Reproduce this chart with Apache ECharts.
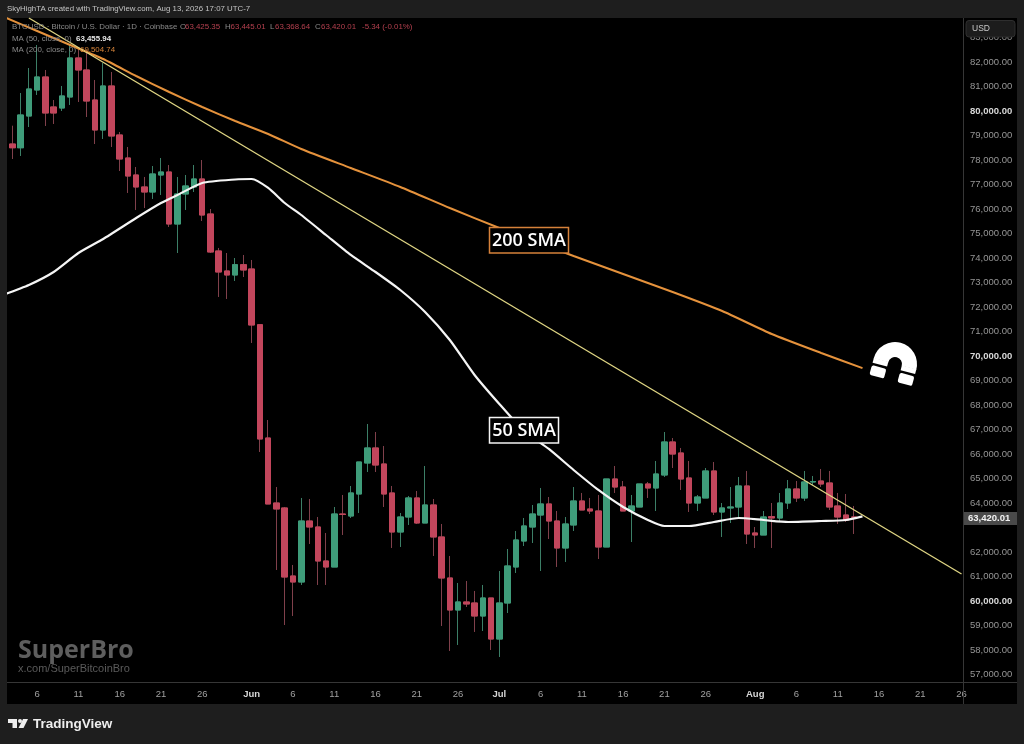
<!DOCTYPE html>
<html>
<head>
<meta charset="utf-8">
<title>BTCUSD 1D</title>
<style>html,body{margin:0;padding:0;background:#1e1e1e;}#c{width:1024px;height:744px;}</style>
<script src="https://cdn.jsdelivr.net/npm/echarts@6/dist/echarts.min.js"></script>
</head>
<body>
<div id="c"></div>
<script>
const monthSpans = [['May', 2, 31], ['Jun', 1, 30], ['Jul', 1, 31], ['Aug', 1, 26]];
const categories = [];
monthSpans.forEach(function (m) { for (let d = m[1]; d <= m[2]; d++) categories.push(m[0] + ' ' + d); });

const tickLabels = {
  'May 6': '6', 'May 11': '11', 'May 16': '16', 'May 21': '21', 'May 26': '26',
  'Jun 1': 'Jun', 'Jun 6': '6', 'Jun 11': '11', 'Jun 16': '16', 'Jun 21': '21', 'Jun 26': '26',
  'Jul 1': 'Jul', 'Jul 6': '6', 'Jul 11': '11', 'Jul 16': '16', 'Jul 21': '21', 'Jul 26': '26',
  'Aug 1': 'Aug', 'Aug 6': '6', 'Aug 11': '11', 'Aug 16': '16', 'Aug 21': '21', 'Aug 26': '26'
};
const priceTicks = [57000,58000,59000,60000,61000,62000,64000,65000,66000,67000,68000,69000,70000,71000,72000,73000,74000,75000,76000,77000,78000,79000,80000,81000,82000,83000];
const brightTicks = [60000, 70000, 80000];

const firstCandle = 'May 3';
const opens = [78653,78500,79796,80858,81388,80164,80123,80572,82164,81674,80449,79225,81021,79021,78082,77388,76899,76694,77388,77510,75388,76613,76899,77225,75796,74286,73470,73307,73727,73551,71278,66653,64000,63797,61020,60776,63265,63021,61633,61388,63551,63470,64368,65633,66246,65592,64409,62817,63429,64205,63184,63919,62613,60939,59633,59960,59919,59388,60123,58449,59919,61389,62449,63021,63510,63960,63265,62164,63103,64082,63756,63674,62205,64980,64653,63674,63837,64776,64613,65143,66490,66041,65021,64000,64205,65307,63633,63797,63837,64694,62776,62694,63442,63388,64000,64572,64205,64858,64898,64817,63878,63510,63425];
const closes = [78500,79837,80898,81388,79919,79919,80613,82164,81674,80408,79225,81021,78980,78041,77347,76899,76694,77429,77510,75388,76613,76939,77225,75755,74245,73429,73307,73727,73511,71266,66613,63960,63756,60980,60776,63265,63021,61633,61388,63551,63531,64409,65674,66246,65551,64368,62817,63429,64205,63184,63919,62613,60939,59633,59960,59878,59388,60123,58449,59919,61429,62490,63062,63551,63960,63265,62164,63143,64082,63715,63674,62205,64980,64653,63674,63878,64776,64613,65184,66490,65999,64980,64000,64245,65307,63633,63797,63837,64694,62735,62694,63429,63388,64000,64572,64205,64858,64878,64776,63837,63429,63307,63420];
const lows = [78041,78164,79347,80654,79388,79470,80000,80245,80368,79755,78653,78858,78531,77551,76654,75960,76041,76409,76572,75266,74204,75960,76694,75510,74204,72409,72327,73062,73225,70531,66082,63960,61266,59020,59388,60654,62327,60654,60654,61388,62694,63388,63592,65266,65266,63837,62164,62205,63103,63143,63184,61837,58980,57960,58205,59755,58736,58776,58000,57715,59510,61143,62245,62367,61225,62531,61389,61592,62857,63715,63551,61715,62205,64409,63674,62408,63837,64205,63674,65062,65429,64531,63633,63674,64205,63510,62613,63184,63429,62327,62164,62694,62164,63265,63756,64041,64082,64735,64653,63715,63143,63225,62735];
const highs = [79400,80735,81755,82694,81674,80449,81021,82694,82613,82490,81266,81960,81592,79143,78531,77715,77307,77755,78082,77796,77307,77388,77796,78000,76000,74409,74204,74000,74123,73919,71278,67388,64653,63837,61470,64205,64164,63429,62776,63837,64327,64694,65674,67225,66898,66327,64694,63592,64286,64490,65510,64164,63143,61837,60735,60817,60409,60654,60123,61225,62123,62857,63388,63919,64613,64245,63674,63429,64653,64409,64205,64327,64980,65510,64898,64327,64776,64858,65715,66898,66653,66246,65715,64327,65429,65674,64000,64653,65062,65307,63021,63674,64000,64409,64939,64898,65307,65103,65388,65307,64409,64368,63878];

const sma50Dates = ['May 2','May 5','May 8','May 11','May 14','May 18','May 21','May 23','May 26','May 30','Jun 1','Jun 3','Jun 5','Jun 7','Jun 10','Jun 13','Jun 16','Jun 19','Jun 22','Jun 25','Jun 28','Jul 1','Jul 4','Jul 7','Jul 10','Jul 13','Jul 16','Jul 19','Jul 21','Jul 24','Jul 27','Jul 30','Aug 2','Aug 5','Aug 9','Aug 12','Aug 14'];
const sma50Values = [72511,72898,73429,74204,74776,75633,76245,76572,77062,77205,77225,76858,76245,75755,74939,74123,73429,72694,71796,70653,69225,68041,66939,66205,65347,64531,63837,63307,63062,63062,63225,63388,63307,63225,63265,63307,63455];

const sma200Dates = ['May 2','May 6','May 10','May 14','May 18','May 22','May 26','May 30','Jun 3','Jun 7','Jun 13','Jun 19','Jun 25','Jul 1','Jul 10','Jul 16','Jul 22','Jul 28','Aug 3','Aug 9','Aug 14'];
const sma200Values = [83837,83266,82694,82123,81429,80776,80164,79592,79062,78449,77674,76899,76041,75225,74082,73347,72613,71837,70898,70123,69505];

const trendDates = ['May 5', 'Aug 26'];
const trendValues = [83796, 61102];

const FONT = '"Liberation Sans", Arial, sans-serif';
const FRAME = '#1e1e1e';
const DIVIDER = '#363636';

const firstIdx = categories.indexOf(firstCandle);
function candleRows(mapper) {
  return categories.map(function (c, i) {
    const k = i - firstIdx;
    if (k < 0 || k >= opens.length) return ['-', '-', '-', '-'];
    return mapper(k);
  });
}
const wickData = candleRows(function (k) { return [opens[k], closes[k], lows[k], highs[k]]; });
const bodyData = candleRows(function (k) {
  return [opens[k], closes[k], Math.min(opens[k], closes[k]), Math.max(opens[k], closes[k])];
});
function pairs(dates, vals) { return dates.map(function (d, i) { return [categories.indexOf(d), vals[i]]; }); }

function txt(x, y, text, fill, size, weight, extra) {
  return Object.assign({
    type: 'text', x: x, y: y, z: 50, silent: true,
    style: { text: text, fill: fill, font: (weight || 'normal') + ' ' + size + 'px ' + FONT, textVerticalAlign: 'middle' }
  }, extra || {});
}
function boxLabel(x, y, w, h, text, stroke) {
  return [
    { type: 'rect', z: 40, silent: true, shape: { x: x, y: y, width: w, height: h }, style: { fill: '#000', stroke: stroke, lineWidth: 1.5 } },
    { type: 'text', z: 41, silent: true, x: x + w / 2, y: y + h / 2 + 0.5,
      style: { text: text, fill: '#fff', font: '600 18px "Open Sans", sans-serif', textAlign: 'center', textVerticalAlign: 'middle' } }
  ];
}

const red = '#b5404f', grey = '#8a8a8a', LEG = 7.9;
const graphics = [
  { type: 'rect', z: -10, silent: true, shape: { x: 7, y: 18, width: 1010, height: 686 }, style: { fill: '#000' } },
  { type: 'rect', z: 30, silent: true, shape: { x: 0, y: 0, width: 7, height: 744 }, style: { fill: FRAME } },
  { type: 'rect', z: 30, silent: true, shape: { x: 7, y: 682, width: 1010, height: 1 }, style: { fill: DIVIDER } },
  { type: 'rect', z: 30, silent: true, shape: { x: 963, y: 18, width: 1, height: 686 }, style: { fill: DIVIDER } },

  txt(7, 9, 'SkyHighTA created with TradingView.com, Aug 13, 2026 17:07 UTC-7', '#c4c4c4', 7.85),
  txt(12, 27, 'BTCUSD · Bitcoin / U.S. Dollar · 1D · Coinbase', grey, LEG),
  txt(180, 27, 'O', grey, LEG), txt(185, 27, '63,425.35', red, LEG),
  txt(225, 27, 'H', grey, LEG), txt(230.5, 27, '63,445.01', red, LEG),
  txt(270, 27, 'L', grey, LEG), txt(275, 27, '63,368.64', red, LEG),
  txt(315, 27, 'C', grey, LEG), txt(321, 27, '63,420.01', red, LEG),
  txt(362, 27, '-5.34 (-0.01%)', red, LEG),
  txt(12, 39, 'MA (50, close, 0)', grey, LEG),
  txt(76, 39, '63,455.94', '#e8e8e8', LEG, 'bold'),
  txt(12, 50, 'MA (200, close, 0)', grey, LEG),
  txt(80, 50, '69,504.74', '#d8853a', LEG),

  { type: 'rect', z: 30, silent: true, shape: { x: 966, y: 20.5, width: 49, height: 16.5, r: 3 }, style: { fill: '#1c1c1c', stroke: '#2e2e2e', lineWidth: 1 } },
  txt(972, 29, 'USD', '#c8c8c8', 8.5, 'normal', { z: 31 }),

  { type: 'rect', z: 30, silent: true, shape: { x: 964, y: 512, width: 53, height: 13 }, style: { fill: '#4a4a4a' } },
  txt(968, 518.5, '63,420.01', '#f2f2f2', 9.5, 'bold', { z: 31 }),

  txt(18, 651, 'SuperBro', '#5e5e5e', 25, 'bold', { z: 5, style: { text: 'SuperBro', fill: '#5e5e5e', font: 'bold 25px "Open Sans", sans-serif', textVerticalAlign: 'middle' } }),
  txt(18, 669, 'x.com/SuperBitcoinBro', '#5a5a5a', 11, 'normal', { z: 5 }),

  { type: 'group', x: 895, y: 364, rotation: -15 * Math.PI / 180, silent: true, z: 20, children: [
    { type: 'sector', z: 20, shape: { cx: 0, cy: 0, r0: 7, r: 22, startAngle: Math.PI, endAngle: 2 * Math.PI }, style: { fill: '#fff' } },
    { type: 'rect', z: 20, shape: { x: -22, y: -0.5, width: 15, height: 5 }, style: { fill: '#fff' } },
    { type: 'rect', z: 20, shape: { x: 7, y: -0.5, width: 15, height: 5 }, style: { fill: '#fff' } },
    { type: 'rect', z: 20, shape: { x: -22, y: 7, width: 15, height: 10, r: 2 }, style: { fill: '#fff' } },
    { type: 'rect', z: 20, shape: { x: 7, y: 7, width: 15, height: 10, r: 2 }, style: { fill: '#fff' } }
  ] },

  { type: 'polygon', z: 30, silent: true, shape: { points: [[8, 719], [17, 719], [17, 728], [12.5, 728], [12.5, 723], [8, 723]] }, style: { fill: '#eee' } },
  { type: 'circle', z: 30, silent: true, shape: { cx: 20, cy: 721, r: 2 }, style: { fill: '#eee' } },
  { type: 'polygon', z: 30, silent: true, shape: { points: [[23, 719], [28, 719], [23.5, 728], [18.5, 728]] }, style: { fill: '#eee' } },
  txt(33, 724, 'TradingView', '#eeeeee', 13.5, 'bold', { z: 30 })
].concat(boxLabel(489.5, 227.5, 79, 25.5, '200 SMA', '#d5813a'), boxLabel(489.5, 417.5, 69, 25.5, '50 SMA', '#f4f4f4'));

const chart = echarts.init(document.getElementById('c'), null, { renderer: 'canvas' });
chart.setOption({
  animation: false,
  backgroundColor: FRAME,
  textStyle: { fontFamily: FONT },
  grid: { left: -0.76, top: 18, width: 966.42, height: 664, containLabel: false },
  graphic: { elements: graphics },
  tooltip: { show: false },
  xAxis: {
    type: 'category',
    data: categories,
    boundaryGap: true,
    axisLine: { show: false },
    axisTick: { show: false },
    splitLine: { show: false },
    axisLabel: {
      show: true,
      interval: function (i, v) { return tickLabels[v] !== undefined; },
      margin: 7,
      hideOverlap: false,
      formatter: function (v) {
        const t = tickLabels[v] || '';
        return /^[A-Z]/.test(t) ? '{m|' + t + '}' : '{n|' + t + '}';
      },
      rich: {
        n: { color: '#a0a0a0', fontSize: 9.5, fontFamily: FONT },
        m: { color: '#d6d6d6', fontSize: 9.5, fontWeight: 'bold', fontFamily: FONT }
      }
    }
  },
  yAxis: {
    type: 'value',
    position: 'right',
    offset: -2.7,
    min: 56694,
    max: 83796,
    scale: true,
    axisLine: { show: false },
    axisTick: { show: false },
    splitLine: { show: false },
    axisLabel: {
      show: true,
      margin: 7,
      customValues: priceTicks,
      formatter: function (v) {
        const s = v.toLocaleString('en-US', { minimumFractionDigits: 2, maximumFractionDigits: 2 });
        return brightTicks.indexOf(v) >= 0 ? '{b|' + s + '}' : '{n|' + s + '}';
      },
      rich: {
        n: { color: '#969696', fontSize: 9.5, fontFamily: FONT },
        b: { color: '#d8d8d8', fontSize: 9.5, fontWeight: 'bold', fontFamily: FONT }
      }
    }
  },
  series: [
    {
      type: 'candlestick',
      name: 'BTCUSD wicks',
      data: wickData,
      barWidth: 6,
      itemStyle: {
        color: '#3f9c7a', color0: '#c2465c',
        borderColor: '#3c7f67', borderColor0: '#80404b',
        borderColorDoji: '#80404b',
        borderWidth: 1
      },
      z: 3
    },
    {
      type: 'candlestick',
      name: 'BTCUSD bodies',
      data: bodyData,
      barWidth: 6,
      itemStyle: {
        color: '#3f9c7a', color0: '#c2465c',
        borderColor: '#3f9c7a', borderColor0: '#c2465c',
        borderColorDoji: '#c2465c',
        borderWidth: 1
      },
      z: 3
    },
    {
      type: 'line', name: 'MA 50', data: pairs(sma50Dates, sma50Values),
      showSymbol: false, symbol: 'none', smooth: 0.2, clip: true,
      lineStyle: { color: '#f5f5f5', width: 2.2 }, z: 4
    },
    {
      type: 'line', name: 'MA 200', data: pairs(sma200Dates, sma200Values),
      showSymbol: false, symbol: 'none', smooth: 0.2, clip: true,
      lineStyle: { color: '#e5923c', width: 2 }, z: 4
    },
    {
      type: 'line', name: 'Trendline', data: pairs(trendDates, trendValues),
      showSymbol: false, symbol: 'none', clip: true,
      lineStyle: { color: '#e0d684', width: 1.3 }, z: 5
    }
  ]
});
</script>
</body>
</html>
